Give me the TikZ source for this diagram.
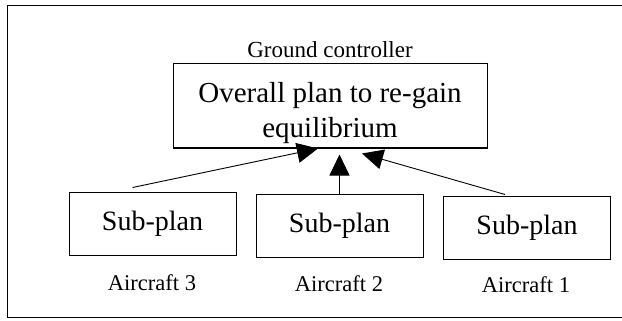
\documentclass[tikz,border=0pt]{standalone}
\usepackage{fontspec}
\setmainfont{Liberation Serif}
\usetikzlibrary{arrows.meta}
\tikzset{
  planbox/.style={rectangle,draw,line width=1pt,minimum width=314pt,minimum height=84pt},
  subbox/.style={rectangle,draw,line width=1pt,minimum width=167pt,minimum height=63pt,
    font=\fontsize{28}{34}\selectfont},
  feed/.style={line width=0.9pt,-{Triangle[length=21pt,width=20pt]}}
}
\begin{document}
\begin{tikzpicture}[x=1pt,y=-1pt]
\useasboundingbox (0,0) rectangle (622,321);
\draw[line width=1pt] (7,6) rectangle (640,317);
\node[font=\fontsize{23}{28}\selectfont] (ground) at (330,50) {Ground controller};
\node[planbox] (plan) at (330,106) {};
\node[align=center,font=\fontsize{29}{34.5}\selectfont] (goal) at (330,113) {Overall plan to re-gain\\equilibrium};
\node[subbox] (sub3) at (152.5,223.5) {Sub-plan};
\node[subbox] (sub2) at (339.5,225.5) {Sub-plan};
\node[subbox] (sub1) at (527,227.5) {Sub-plan};
\node[font=\fontsize{22.5}{27}\selectfont] (ac3) at (152,283) {Aircraft 3};
\node[font=\fontsize{22.5}{27}\selectfont] (ac2) at (339,284) {Aircraft 2};
\node[font=\fontsize{22.5}{27}\selectfont] (ac1) at (526,285) {Aircraft 1};
\draw[feed] ([xshift=-20pt,yshift=4pt]sub3.north) -- ([xshift=-12pt]plan.south);
\draw[feed] (sub2.north) -- ([yshift=-6pt]plan.south -| sub2.north);
\draw[feed] ([xshift=-22pt,yshift=1pt]sub1.north) -- ([xshift=32pt,yshift=-5pt]plan.south);
\end{tikzpicture}
\end{document}
